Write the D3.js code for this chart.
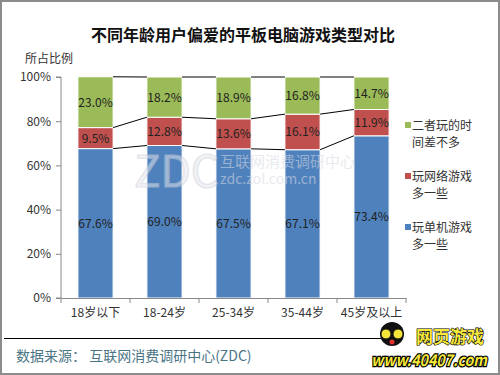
<!DOCTYPE html>
<html>
<head>
<meta charset="utf-8">
<script src="https://cdn.jsdelivr.net/npm/d3@7"></script>
<style>
  body { margin: 0; background: #fff; }
  text { font-family: "Noto Sans CJK SC", "DejaVu Sans", sans-serif; }
</style>
</head>
<body>
<div id="chart"></div>
<script>
// data
const categories = ["18岁以下", "18-24岁", "25-34岁", "35-44岁", "45岁及以上"];
const singleGame = [67.6, 69.0, 67.5, 67.1, 73.4];
const onlineGame = [9.5, 12.8, 13.6, 16.1, 11.9];
const bothSame = [23.0, 18.2, 18.9, 16.8, 14.7];
const seriesNames = ["玩单机游戏多一些", "玩网络游戏多一些", "二者玩的时间差不多"];
const seriesColors = ["#4f81bd", "#c0504d", "#9bbb59"];
const yTicks = [0, 20, 40, 60, 80, 100];

const width = 500, height = 375;
const plot = { left: 61, right: 406, top: 77, bottom: 298 };

let svg = d3.select("#chart").append("svg")
    .attr("width", width)
    .attr("height", height);

//=================================================
// frame + title
//=================================================
svg.append("rect")
    .attr("x", 1).attr("y", 1)
    .attr("width", width - 2).attr("height", height - 2)
    .attr("fill", "#fff")
    .attr("stroke", "#8c8c8c")
    .attr("stroke-width", 2);

svg.append("text")
    .attr("x", 243).attr("y", 41)
    .attr("text-anchor", "middle")
    .attr("font-size", 16)
    .attr("font-weight", "bold")
    .attr("fill", "#111")
    .text("不同年龄用户偏爱的平板电脑游戏类型对比");

svg.append("text")
    .attr("x", 25).attr("y", 63)
    .attr("font-size", 12)
    .attr("fill", "#333")
    .text("所占比例");

//=================================================
// scales
//=================================================
let x = d3.scaleBand()
    .domain(categories)
    .range([plot.left, plot.right])
    .paddingInner(0.49)
    .paddingOuter(0.245);

let y = d3.scaleLinear()
    .domain([0, 100])
    .range([plot.bottom, plot.top]);

//=================================================
// stacked bars
//=================================================
let table = categories.map((c, i) => ({
    cat: c, s0: singleGame[i], s1: onlineGame[i], s2: bothSame[i]
}));
let stack = d3.stack().keys(["s0", "s1", "s2"]);
let layers = stack(table);

let barG = svg.append("g");
layers.forEach((layer, k) => {
    barG.selectAll(null)
        .data(layer)
        .enter().append("rect")
        .attr("x", d => x(d.data.cat))
        .attr("y", d => y(d[1]))
        .attr("width", x.bandwidth())
        .attr("height", d => y(d[0]) - y(d[1]))
        .attr("fill", seriesColors[k])
        .attr("stroke", "#fff")
        .attr("stroke-width", 1);
});

// connector lines between bars
layers.forEach(layer => {
    for (let i = 0; i < layer.length - 1; i++) {
        svg.append("line")
            .attr("x1", x(layer[i].data.cat) + x.bandwidth())
            .attr("y1", y(layer[i][1]))
            .attr("x2", x(layer[i + 1].data.cat))
            .attr("y2", y(layer[i + 1][1]))
            .attr("stroke", "#000")
            .attr("stroke-width", 1);
    }
});

//=================================================
// watermark (sits over the bars)
//=================================================
let wm = svg.append("g").attr("opacity", 0.55);
wm.append("text")
    .attr("x", 134).attr("y", 187)
    .attr("font-family", "DejaVu Serif")
    .attr("font-size", 44)
    .attr("fill", "#e6e8ee")
    .attr("stroke", "#c9ced8")
    .attr("stroke-width", 1.2)
    .text("ZDC");
wm.append("text")
    .attr("x", 220).attr("y", 167)
    .attr("font-size", 15)
    .attr("fill", "#d6dae2")
    .text("互联网消费调研中心");
wm.append("text")
    .attr("x", 220).attr("y", 184)
    .attr("font-size", 14)
    .attr("fill", "#d6dae2")
    .text("zdc.zol.com.cn");

// value labels
layers.forEach(layer => {
    svg.selectAll(null)
        .data(layer)
        .enter().append("text")
        .attr("x", d => x(d.data.cat) + x.bandwidth() / 2)
        .attr("y", d => (y(d[0]) + y(d[1])) / 2 + 4.5)
        .attr("text-anchor", "middle")
        .attr("font-size", 12)
        .attr("fill", "#222")
        .text(d => (d[1] - d[0]).toFixed(1) + "%");
});

//=================================================
// axes
//=================================================
let axisY = svg.append("g")
    .attr("transform", "translate(" + plot.left + ",0)")
    .call(d3.axisLeft(y).tickValues(yTicks).tickSize(5).tickFormat(d => d + "%"));
axisY.select(".domain").attr("stroke", "#888").attr("d", "M-5," + plot.top + "H0V" + plot.bottom + "H-5");
axisY.selectAll(".tick line").attr("stroke", "#888");
axisY.selectAll(".tick text")
    .attr("x", -10)
    .attr("font-size", 12)
    .attr("font-family", "Noto Sans CJK SC")
    .attr("fill", "#333");

let axisX = svg.append("g")
    .attr("transform", "translate(0," + plot.bottom + ")")
    .call(d3.axisBottom(x).tickSize(0));
axisX.select(".domain").attr("stroke", "#888");
axisX.selectAll(".tick text")
    .attr("dy", 0)
    .attr("y", 19)
    .attr("font-size", 12)
    .attr("font-family", "Noto Sans CJK SC")
    .attr("fill", "#333");
// category boundary ticks
d3.range(categories.length + 1).forEach(i => {
    let px = plot.left + i * x.step();
    axisX.append("line")
        .attr("x1", px).attr("x2", px)
        .attr("y1", 0).attr("y2", 5)
        .attr("stroke", "#888");
});

//=================================================
// legend
//=================================================
let legendLines = [["二者玩的时", "间差不多"], ["玩网络游戏", "多一些"], ["玩单机游戏", "多一些"]];
let legendColors = [seriesColors[2], seriesColors[1], seriesColors[0]];
let legendTop = [125, 176, 227];
legendLines.forEach((lines, i) => {
    svg.append("rect")
        .attr("x", 405).attr("y", legendTop[i] - 3)
        .attr("width", 6).attr("height", 6)
        .attr("fill", legendColors[i]);
    lines.forEach((t, j) => {
        svg.append("text")
            .attr("x", 412).attr("y", legendTop[i] + 4.5 + j * 17)
            .attr("font-size", 12)
            .attr("fill", "#333")
            .text(t);
    });
});

//=================================================
// footer
//=================================================
svg.append("line")
    .attr("x1", 4).attr("x2", 400)
    .attr("y1", 338.5).attr("y2", 338.5)
    .attr("stroke", "#000");

svg.append("text")
    .attr("x", 16).attr("y", 361)
    .attr("font-size", 14)
    .attr("fill", "#4a7585")
    .text("数据来源：  互联网消费调研中心(ZDC)");

// logo
let logo = svg.append("g");
logo.append("circle").attr("cx", 392).attr("cy", 334).attr("r", 12).attr("fill", "#111");
logo.append("circle").attr("cx", 386).attr("cy", 334).attr("r", 5).attr("fill", "#f5e53a").attr("stroke", "#111");
logo.append("circle").attr("cx", 398).attr("cy", 334).attr("r", 5).attr("fill", "#f5e53a").attr("stroke", "#111");
logo.append("circle").attr("cx", 392).attr("cy", 342).attr("r", 2.5).attr("fill", "#e03030");
logo.append("text")
    .attr("x", 416).attr("y", 343)
    .attr("font-size", 17)
    .attr("font-weight", "bold")
    .attr("fill", "#f7e93c")
    .attr("stroke", "#000")
    .attr("stroke-width", 1.2)
    .attr("paint-order", "stroke")
    .text("网页游戏");
logo.append("text")
    .attr("x", 371).attr("y", 366)
    .attr("font-family", "DejaVu Sans")
    .attr("font-size", 16)
    .attr("font-weight", "bold")
    .attr("font-style", "italic")
    .attr("textLength", 116)
    .attr("lengthAdjust", "spacingAndGlyphs")
    .attr("fill", "#f7e93c")
    .attr("stroke", "#000")
    .attr("stroke-width", 2.5)
    .attr("paint-order", "stroke")
    .text("www.40407.com");
</script>
</body>
</html>
